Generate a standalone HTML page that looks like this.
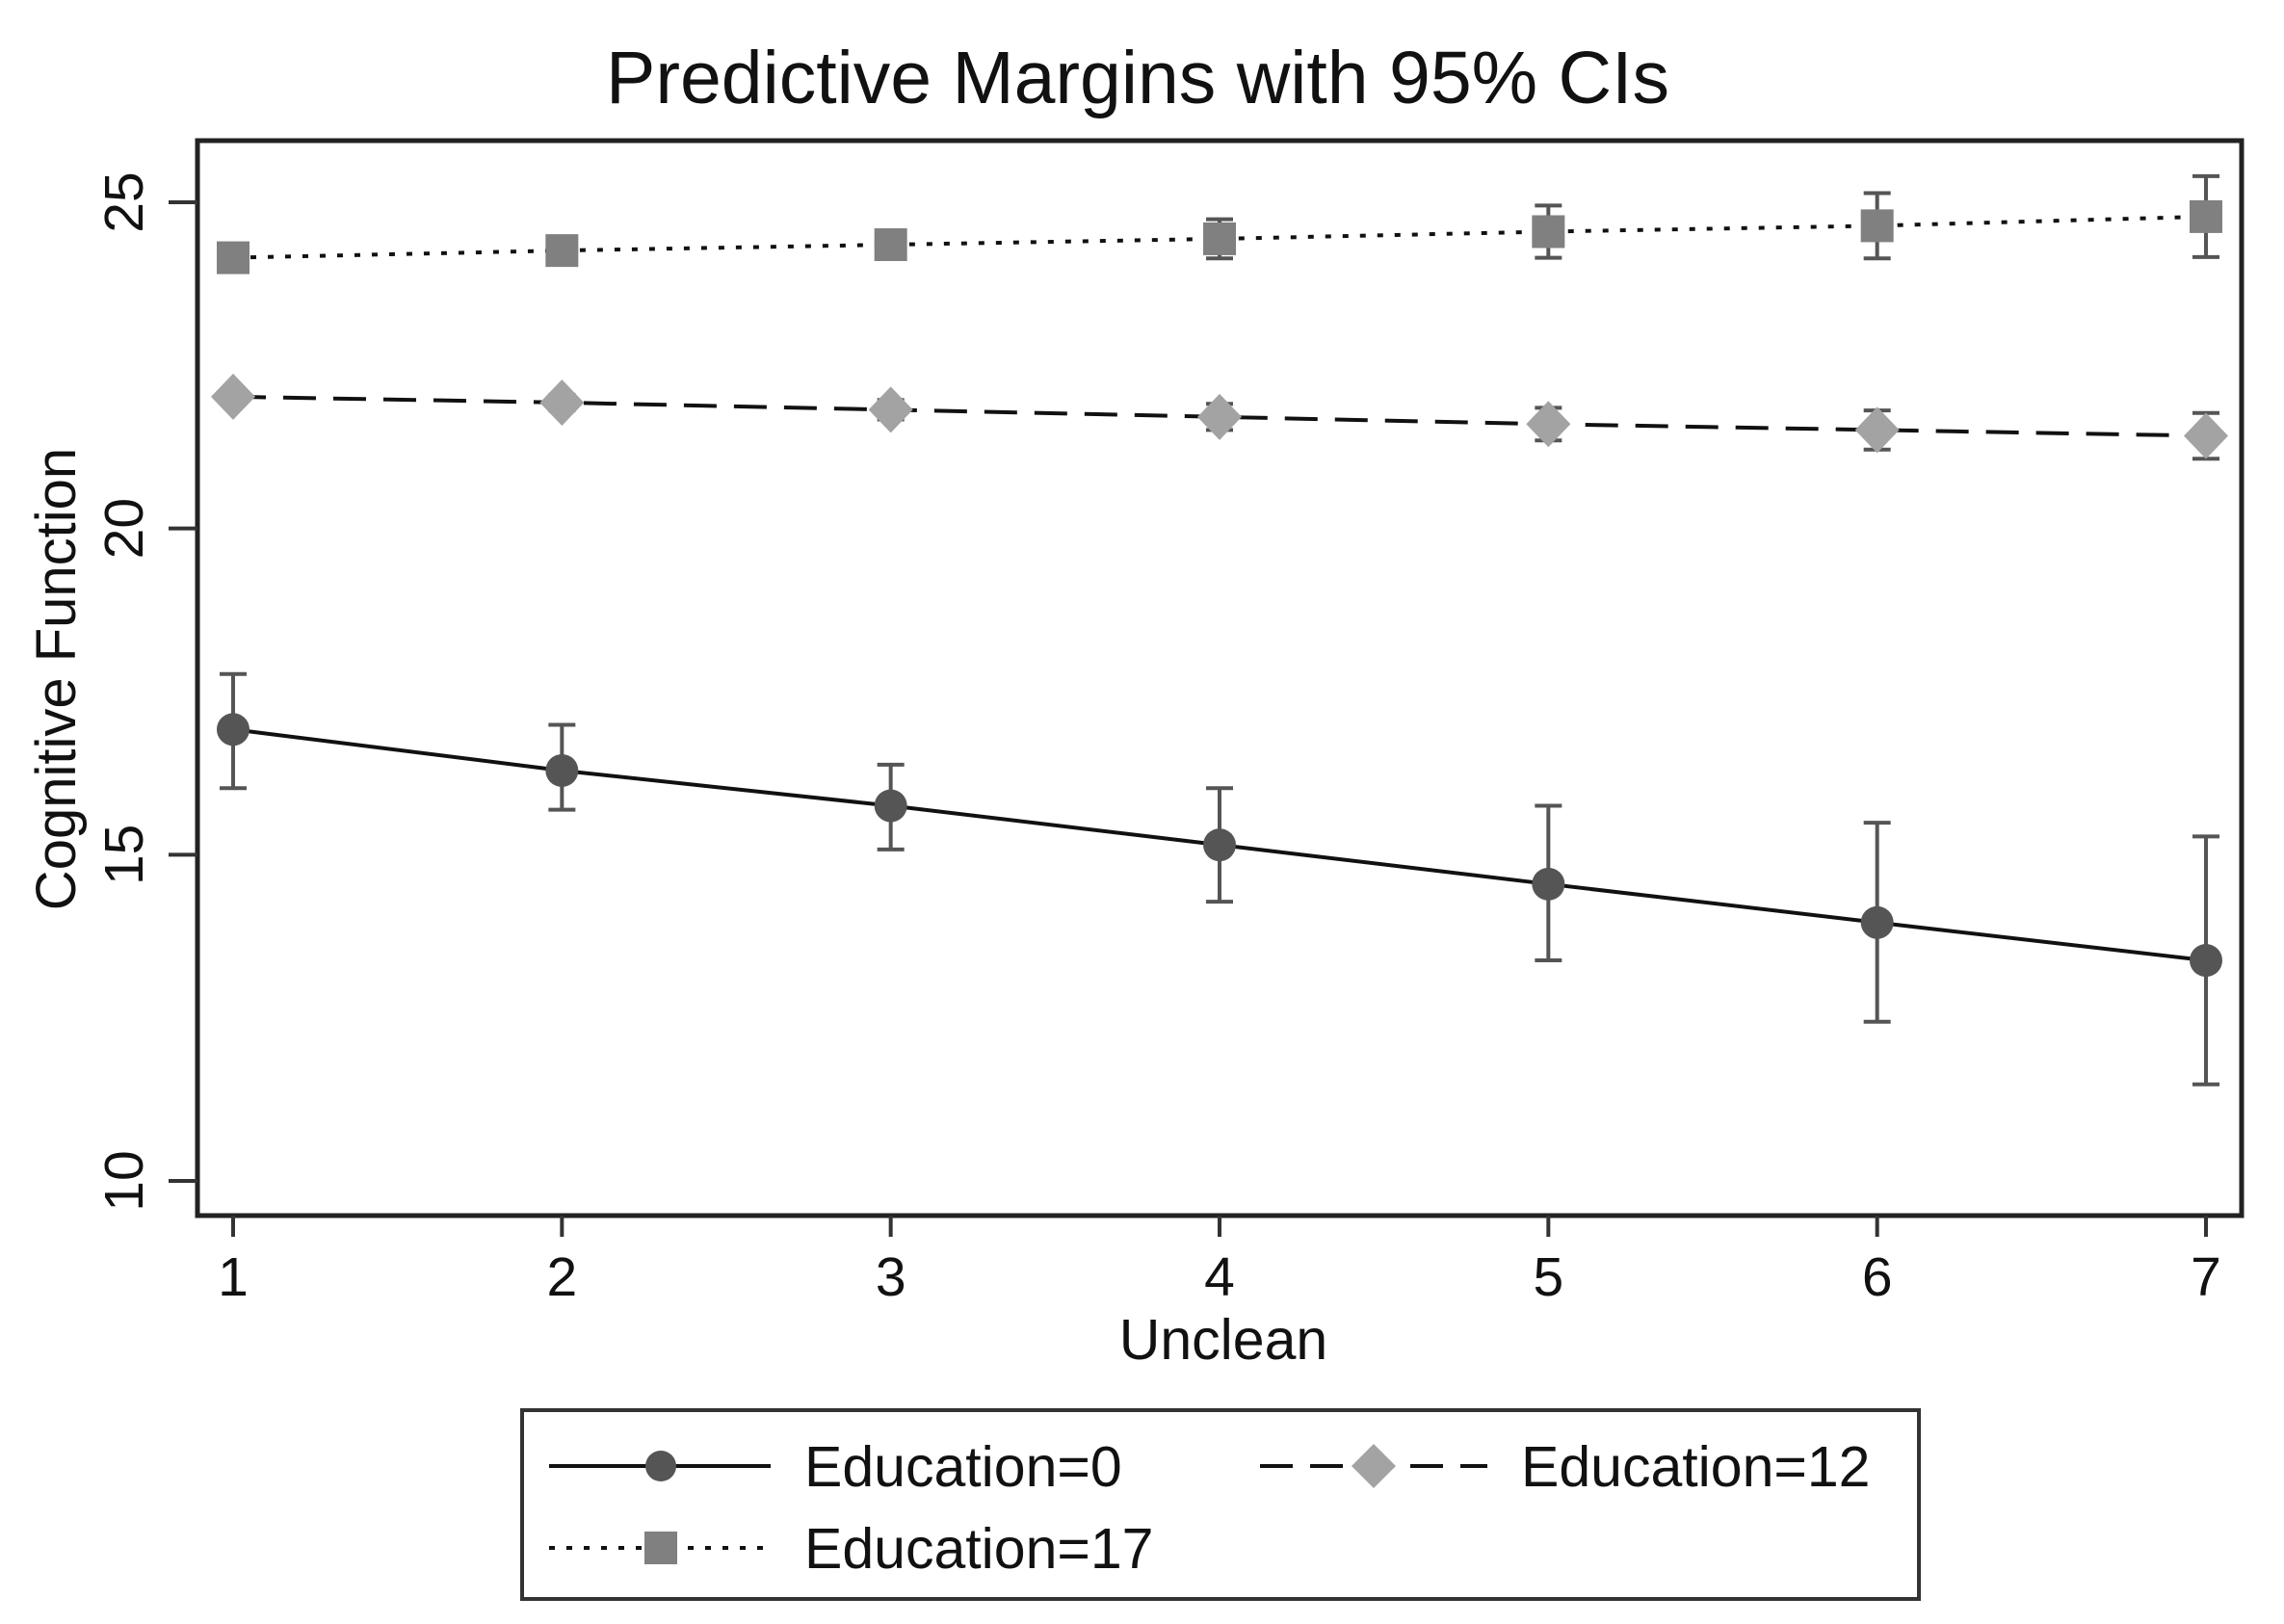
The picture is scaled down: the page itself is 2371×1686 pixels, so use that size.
<!DOCTYPE html>
<html><head><meta charset="utf-8"><style>
html,body{margin:0;padding:0;background:#fff;}
svg{display:block;font-family:"Liberation Sans",Arial,sans-serif;}
</style></head><body>
<svg id="chart" width="2371" height="1686" viewBox="0 0 2371 1686" xmlns="http://www.w3.org/2000/svg">
<rect width="2371" height="1686" fill="#fff"/>
<text x="1181" y="107" font-size="77" text-anchor="middle" fill="#111">Predictive Margins with 95% CIs</text>
<rect x="205" y="146" width="2122" height="1116" fill="none" stroke="#222" stroke-width="5"/>
<g id="axes"></g>
<g id="series"></g>
<text transform="translate(78,705) rotate(-90)" font-size="58" text-anchor="middle" fill="#111">Cognitive Function</text>
<text x="1270" y="1411" font-size="59" text-anchor="middle" fill="#111">Unclean</text>
<g>
<rect x="542" y="1464" width="1450" height="196" fill="#fff" stroke="#333" stroke-width="4"/>
<line x1="570" y1="1522" x2="800" y2="1522" stroke="#111" stroke-width="4"/>
<circle cx="686" cy="1522" r="16" fill="#555"/>
<text x="835" y="1543" font-size="59" fill="#111">Education=0</text>
<line x1="1308" y1="1522" x2="1544" y2="1522" stroke="#111" stroke-width="4" stroke-dasharray="34,18"/>
<polygon points="1426,1499 1449,1522 1426,1545 1403,1522" fill="#a3a3a3"/>
<text x="1579" y="1543" font-size="59" fill="#111">Education=12</text>
<line x1="570" y1="1607" x2="800" y2="1607" stroke="#111" stroke-width="4" stroke-dasharray="6,12"/>
<rect x="669" y="1590" width="34" height="34" fill="#808080"/>
<text x="835" y="1628" font-size="59" fill="#111">Education=17</text>
</g>
</svg>
<script>
const xCategories = [1, 2, 3, 4, 5, 6, 7];
const yTicks = [10, 15, 20, 25];
const ed0 = [16.92, 16.29, 15.75, 15.15, 14.55, 13.96, 13.38];
const ed0Lo = [16.02, 15.69, 15.08, 14.28, 13.38, 12.44, 11.48];
const ed0Hi = [17.77, 16.99, 16.38, 16.02, 15.75, 15.49, 15.28];
const ed12 = [22.02, 21.93, 21.82, 21.71, 21.60, 21.51, 21.42];
const ed12Lo = [21.92, 21.81, 21.67, 21.51, 21.35, 21.21, 21.07];
const ed12Hi = [22.12, 22.05, 21.97, 21.91, 21.85, 21.81, 21.77];
const ed17 = [24.15, 24.26, 24.35, 24.44, 24.55, 24.64, 24.78];
const ed17Lo = [24.05, 24.16, 24.20, 24.14, 24.15, 24.14, 24.16];
const ed17Hi = [24.25, 24.36, 24.50, 24.74, 24.95, 25.14, 25.40];

const NS = 'http://www.w3.org/2000/svg';
function xs(v){ return 242 + (v - 1) * (2290 - 242) / 6; }
function ys(v){ return 210 + (25 - v) * (1226 - 210) / 15; }
function mk(tag, attrs, parent){
  const e = document.createElementNS(NS, tag);
  for (const k in attrs) e.setAttribute(k, attrs[k]);
  parent.appendChild(e);
  return e;
}
const axes = document.getElementById('axes');
const series = document.getElementById('series');

yTicks.forEach(t => {
  const l = mk('line', {x1: 175, x2: 205, y1: ys(t), y2: ys(t), stroke: '#333', 'stroke-width': 4}, axes);
  
  
  const tx = mk('text', {transform: 'translate(148,' + ys(t) + ') rotate(-90)', 'font-size': 57, 'text-anchor': 'middle', fill: '#111'}, axes);
  tx.textContent = t;
  
  
});
xCategories.forEach(c => {
  const l = mk('line', {x1: xs(c), x2: xs(c), y1: 1262, y2: 1284, stroke: '#333', 'stroke-width': 4}, axes);
  
  
  const tx = mk('text', {x: xs(c), y: 1345, 'font-size': 57, 'text-anchor': 'middle', fill: '#111'}, axes);
  tx.textContent = c;
  
  
});

function drawSeries(name, vals, lo, hi, dash, color, shape){
  const g = mk('g', {}, series);
  
  
  xCategories.forEach((c, i) => {
    const x = xs(c);
    const bar = mk('path', {d: 'M' + (x - 14) + ' ' + ys(hi[i]) + 'H' + (x + 14) + 'M' + x + ' ' + ys(hi[i]) + 'V' + ys(lo[i]) + 'M' + (x - 14) + ' ' + ys(lo[i]) + 'H' + (x + 14), stroke: '#555', 'stroke-width': 4, fill: 'none'}, g);
    
    
  });
  const pts = xCategories.map((c, i) => xs(c) + ',' + ys(vals[i])).join(' ');
  const pl = mk('polyline', {points: pts, fill: 'none', stroke: '#111', 'stroke-width': 4, 'stroke-dasharray': dash}, g);
  
  
  xCategories.forEach((c, i) => {
    const x = xs(c), y = ys(vals[i]);
    let m;
    if (shape === 'circle') m = mk('circle', {cx: x, cy: y, r: 17, fill: color}, g);
    else if (shape === 'diamond') m = mk('polygon', {points: x + ',' + (y - 24) + ' ' + (x + 23) + ',' + y + ' ' + x + ',' + (y + 24) + ' ' + (x - 23) + ',' + y, fill: color}, g);
    else m = mk('rect', {x: x - 17, y: y - 17, width: 34, height: 34, fill: color}, g);
    
    
  });
}
drawSeries('series-education-0', ed0, ed0Lo, ed0Hi, 'none', '#555', 'circle');
drawSeries('series-education-12', ed12, ed12Lo, ed12Hi, '34,18', '#a3a3a3', 'diamond');
drawSeries('series-education-17', ed17, ed17Lo, ed17Hi, '6,12', '#808080', 'square');
</script>
</body></html>
